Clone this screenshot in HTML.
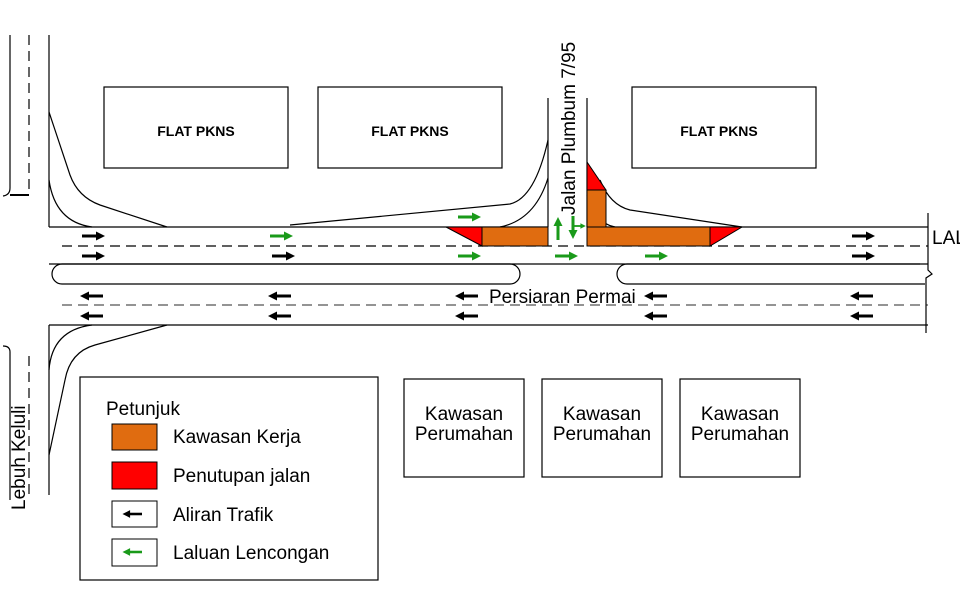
<!DOCTYPE html>
<html><head><style>
html,body{margin:0;padding:0;background:#fff;}
svg{display:block;font-family:"Liberation Sans",Arial,sans-serif;}
</style></head><body>
<svg width="960" height="597" viewBox="0 0 960 597" xmlns="http://www.w3.org/2000/svg">
<defs>
<g id="ar"><rect x="0" y="-1.5" width="16" height="3"/><polygon points="14,-4.5 23,0 14,4.5"/></g>
</defs>
<g fill="none" stroke="#000" stroke-width="1.2">
<path d="M10,35 V188 Q10,195 3,196"/>
<line x1="10" y1="195" x2="29" y2="195" stroke-width="2"/>
<line x1="29" y1="35" x2="29" y2="195" stroke-dasharray="10,6"/>
<line x1="49" y1="35" x2="49" y2="227"/>
<path d="M49,112 L70,175 Q78,197 100,205 L167,227"/>
<path d="M49,180 Q55,222 92,227"/>
<path d="M3,346 Q10,346 10,352 V500"/>
<line x1="29" y1="356" x2="29" y2="500" stroke-dasharray="10,6"/>
<line x1="49" y1="325" x2="49" y2="495"/>
<path d="M92,325 Q52,330 49,370"/>
<path d="M167,325 L95,345 Q70,352 65,380 L49,455"/>
<line x1="49" y1="227" x2="548" y2="227"/>
<line x1="587" y1="227" x2="928" y2="227"/>
<line x1="62" y1="246" x2="928" y2="246" stroke-dasharray="10,6"/>
<line x1="49" y1="264" x2="928" y2="264"/>
<path d="M510,264 H62 A10,10 0 0 0 62,284 H510 A10,10 0 0 0 510,264"/>
<path d="M920,264 H627 A10,10 0 0 0 627,284 H925"/>
<line x1="62" y1="305" x2="928" y2="305" stroke-dasharray="10,6" stroke="#555"/>
<line x1="49" y1="325" x2="928" y2="325"/>
<path d="M928,213 V270 L932,274 L926,278 V333"/>
<line x1="548" y1="98" x2="548" y2="227"/>
<line x1="587" y1="98" x2="587" y2="227"/>
<path d="M290,225 L510,204 Q535,198 548,140"/>
<path d="M500,227 Q535,220 548,178"/>
<path d="M600,180 Q610,205 630,210 L742,227"/>
<path d="M587,195 Q592,222 615,227"/>
<rect x="104" y="87" width="184" height="81"/>
<rect x="318" y="87" width="184" height="81"/>
<rect x="632" y="87" width="184" height="81"/>
<rect x="404" y="379" width="120" height="98"/>
<rect x="542" y="379" width="120" height="98"/>
<rect x="680" y="379" width="120" height="98"/>
<rect x="80" y="377" width="298" height="203"/>
</g>
<g stroke="#000" stroke-width="1">
<rect x="482" y="227" width="66" height="19" fill="#e06c10"/>
<rect x="587" y="227" width="123" height="19" fill="#e06c10"/>
<rect x="587" y="190" width="19" height="37" fill="#e06c10"/>
<polygon points="446,227 482,227 482,246" fill="#f00"/>
<polygon points="710,227 742,227 710,246" fill="#f00"/>
<polygon points="587,162 587,190 606,190" fill="#f00"/>
</g>
<g fill="#000">
<use href="#ar" x="82" y="236"/><use href="#ar" x="82" y="256"/>
<use href="#ar" x="272" y="256"/>
<use href="#ar" x="852" y="236"/><use href="#ar" x="852" y="256"/>
<g transform="translate(103,296) scale(-1,1)"><use href="#ar"/></g>
<g transform="translate(103,316) scale(-1,1)"><use href="#ar"/></g>
<g transform="translate(291,296) scale(-1,1)"><use href="#ar"/></g>
<g transform="translate(291,316) scale(-1,1)"><use href="#ar"/></g>
<g transform="translate(478,296) scale(-1,1)"><use href="#ar"/></g>
<g transform="translate(478,316) scale(-1,1)"><use href="#ar"/></g>
<g transform="translate(667,296) scale(-1,1)"><use href="#ar"/></g>
<g transform="translate(667,316) scale(-1,1)"><use href="#ar"/></g>
<g transform="translate(873,296) scale(-1,1)"><use href="#ar"/></g>
<g transform="translate(873,316) scale(-1,1)"><use href="#ar"/></g>
<g transform="translate(157,514) scale(-1,1)"><use href="#ar" transform="translate(15,0) scale(0.85)"/></g>
</g>
<g fill="#1a9a1a">
<use href="#ar" x="270" y="236"/>
<use href="#ar" x="458" y="217"/><use href="#ar" x="458" y="256"/>
<use href="#ar" x="555" y="256"/><use href="#ar" x="645" y="256"/>
<g transform="translate(558,240) rotate(-90)"><use href="#ar"/></g>
<g transform="translate(573,216) rotate(90)"><use href="#ar"/></g>
<g transform="translate(572,226)"><use href="#ar" transform="scale(0.6)"/></g>
<g transform="translate(157,552) scale(-1,1)"><use href="#ar" transform="translate(15,0) scale(0.85)"/></g>
</g>
<g stroke="#000" stroke-width="1">
<rect x="112" y="424" width="45" height="26" fill="#e06c10"/>
<rect x="112" y="462" width="45" height="27" fill="#f00"/>
<rect x="112" y="501" width="45" height="26" fill="none"/>
<rect x="112" y="539" width="45" height="27" fill="none"/>
</g>
<g fill="#000" font-size="14" font-weight="bold" text-anchor="middle">
<text x="196" y="136">FLAT PKNS</text>
<text x="410" y="136">FLAT PKNS</text>
<text x="719" y="136">FLAT PKNS</text>
</g>
<g fill="#000" font-size="19" text-anchor="middle">
<text x="464" y="420">Kawasan</text><text x="464" y="440">Perumahan</text>
<text x="602" y="420">Kawasan</text><text x="602" y="440">Perumahan</text>
<text x="740" y="420">Kawasan</text><text x="740" y="440">Perumahan</text>
</g>
<g fill="#000" font-size="19">
<text x="106" y="415">Petunjuk</text>
<text x="173" y="443">Kawasan Kerja</text>
<text x="173" y="482">Penutupan jalan</text>
<text x="173" y="521">Aliran Trafik</text>
<text x="173" y="559">Laluan Lencongan</text>
<text x="932" y="244">LALUAN</text>
</g>
<rect x="488" y="286" width="152" height="18" fill="#fff"/>
<text x="489" y="303" font-size="19" fill="#000">Persiaran Permai</text>
<text transform="translate(575,215) rotate(-90)" font-size="19" fill="#000">Jalan Plumbum 7/95</text>
<text transform="translate(25,510) rotate(-90)" font-size="19" fill="#000">Lebuh Keluli</text>
</svg>
</body></html>
